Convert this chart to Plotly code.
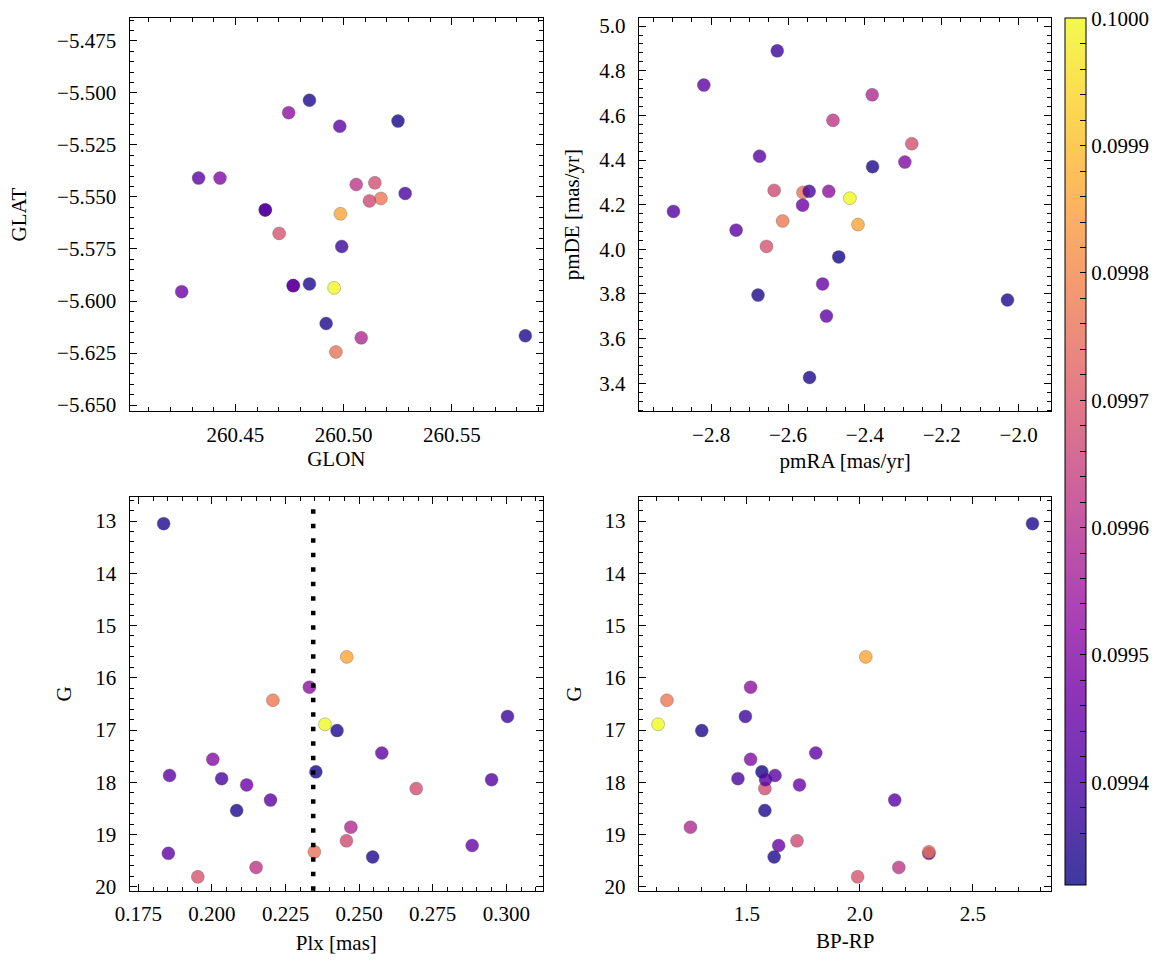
import plotly.graph_objects as go
import plotly.colors as pc

# ---- data (one entry per star) ----
G = [19.36, 19.33, 18.12, 13.05, 15.60, 16.18, 16.43, 16.74, 16.89, 17.01, 17.44, 17.56, 17.80,
     17.87, 17.93, 17.95, 18.05, 18.34, 18.54, 18.86, 19.12, 19.21, 19.43, 19.63, 19.81]
plx = [0.1852, 0.2348, 0.2694, 0.1836, 0.2458, 0.2331, 0.2207, 0.3004, 0.2384, 0.2425, 0.2577, 0.2003, 0.2353,
       0.1856, 0.2033, 0.2950, 0.2118, 0.2199, 0.2084, 0.2472, 0.2457, 0.2884, 0.2546, 0.2150, 0.1952]
bp_rp = [2.305, 2.305, 1.580, 2.763, 2.026, 1.517, 1.147, 1.494, 1.108, 1.301, 1.805, 1.517, 1.567,
         1.625, 1.461, 1.583, 1.733, 2.154, 1.580, 1.251, 1.722, 1.641, 1.621, 2.172, 1.990]
glon = [260.4638, 260.4964, 260.5144, 260.5839, 260.4985, 260.4746, 260.5172, 260.4991, 260.4956, 260.4842,
        260.4982, 260.4429, 260.5251, 260.4330, 260.5284, 260.4638, 260.4252, 260.4767, 260.4842, 260.5081,
        260.5119, 260.4767, 260.4919, 260.5058, 260.4702]
glat = [-5.5562, -5.6245, -5.5432, -5.6167, -5.5581, -5.5095, -5.5507, -5.5738, -5.5937, -5.5035,
        -5.5160, -5.5409, -5.5135, -5.5409, -5.5483, -5.5562, -5.5955, -5.5926, -5.5918, -5.6177,
        -5.5519, -5.5926, -5.6108, -5.5440, -5.5675]
pmra = [-2.500, -2.561, -2.278, -2.029, -2.418, -2.494, -2.614, -2.628, -2.439, -2.380, -2.819, -2.296, -2.468,
        -2.674, -2.545, -2.898, -2.562, -2.735, -2.678, -2.381, -2.636, -2.510, -2.544, -2.483, -2.656]
pmde = [3.701, 4.255, 4.473, 3.773, 4.111, 4.260, 4.127, 4.889, 4.229, 4.370, 4.736, 4.391, 3.966,
        4.417, 4.260, 4.170, 4.198, 4.086, 3.795, 4.692, 4.264, 3.845, 3.426, 4.578, 4.013]
prob = [0.09944, 0.09976, 0.09968, 0.09934, 0.09986, 0.09952, 0.09977, 0.09938, 0.10000, 0.09934,
        0.09944, 0.09950, 0.09933, 0.09943, 0.09940, 0.09942, 0.09946, 0.09943, 0.09934, 0.09959,
        0.09967, 0.09945, 0.09934, 0.09962, 0.09969]
plx_mean = 0.2344
cb_ticks = [0.0994, 0.0995, 0.0996, 0.0997, 0.0998, 0.0999, 0.1000]
CMIN, CMAX = 0.099319, 0.1000

FONT = "Liberation Serif"
FS = 21
W, H = 1166, 965
ALPHA = 0.8

# colorbar scale: plasma blended with white (like alpha on a white page)
plasma = pc.sequential.Plasma
blended = []
for i, c in enumerate(plasma):
    r, g, b = pc.hex_to_rgb(c)
    rr = round(ALPHA * r + (1 - ALPHA) * 255)
    gg = round(ALPHA * g + (1 - ALPHA) * 255)
    bb = round(ALPHA * b + (1 - ALPHA) * 255)
    blended.append([i / (len(plasma) - 1), f"rgb({rr},{gg},{bb})"])

fig = go.Figure()

panels = [
    (glon, glat, "x", "y"),
    (pmra, pmde, "x2", "y2"),
    (plx, G, "x3", "y3"),
    (bp_rp, G, "x4", "y4"),
]
for xs, ys, xa, ya in panels:
    fig.add_trace(go.Scatter(
        x=xs, y=ys, xaxis=xa, yaxis=ya, mode="markers", showlegend=False,
        marker=dict(size=13, color=prob, colorscale="Plasma", cmin=CMIN, cmax=CMAX,
                    opacity=ALPHA, line=dict(width=0.5, color="rgba(60,60,60,0.7)")),
    ))

# colour bar
minor_vals = []
v = cb_ticks[0] - 0.00004
while v <= CMAX + 1e-9:
    minor_vals.append(round(v, 6))
    v += 0.00002
tickvals = [t for t in minor_vals if t >= CMIN - 1e-9]
ticktext = [f"{t:.4f}" if any(abs(t - m) < 1e-9 for m in cb_ticks) else "" for t in tickvals]
fig.add_trace(go.Scatter(
    x=glon, y=glat, xaxis="x", yaxis="y", mode="markers", showlegend=False, hoverinfo="skip",
    marker=dict(size=1, color=prob, opacity=0, colorscale=blended, cmin=CMIN, cmax=CMAX, showscale=True,
                colorbar=dict(x=1064 / W, xanchor="left", y=1 - 15.5 / H, yanchor="top",
                              lenmode="pixels", len=867, thicknessmode="pixels", thickness=21,
                              outlinewidth=1, outlinecolor="black", xpad=0, ypad=0,
                              ticks="inside", ticklen=6, tickcolor="black", tickwidth=1.2,
                              tickvals=tickvals, ticktext=ticktext,
                              tickfont=dict(family=FONT, size=FS, color="black"))),
))

fig.add_shape(type="line", xref="x3", yref="y3 domain", x0=plx_mean, x1=plx_mean, y0=0, y1=0.97,
              line=dict(color="black", width=4.5, dash="4.5px,10px"))

def ax(domain, rng, dtick, fmt, minor, title, anchor, standoff, lstand):
    return dict(domain=domain, range=rng, dtick=dtick, tick0=0, tickformat=fmt,
                showline=True, linecolor="black", linewidth=1.3, mirror="allticks",
                ticks="inside", ticklen=7, tickwidth=1.2, tickcolor="black",
                showgrid=False, zeroline=False, anchor=anchor,
                tickfont=dict(family=FONT, size=FS, color="black"),
                minor=dict(ticks="inside", ticklen=4, tickwidth=1, tickcolor="black", dtick=minor, showgrid=False),
                title=dict(text=title, font=dict(family=FONT, size=FS, color="black"), standoff=standoff),
                ticklabelstandoff=lstand)

xl = [116 / W, 535 / W]
xr = [632 / W, 1050 / W]
yt = [1 - 413 / H, 1 - 15 / H]
yb = [1 - 898 / H, 1 - 500 / H]

fig.update_layout(
    width=W, height=H, margin=dict(l=0, r=0, t=0, b=0),
    paper_bgcolor="white", plot_bgcolor="white",
    xaxis=ax(xl, [260.4011, 260.5921], 0.05, ".2f", 0.01, "GLON", "y", 5, 4),
    yaxis=ax(yt, [-5.653, -5.4639], 0.025, ".3f", 0.005, "GLAT", "x", 24, 8),
    xaxis2=ax(xr, [-2.988, -1.9145], 0.2, ".1f", 0.05, "pmRA [mas/yr]", "y2", 7, 4),
    yaxis2=ax(yt, [3.2746, 5.037], 0.2, ".1f", 0.04, "pmDE [mas/yr]", "x2", 13, 8),
    xaxis3=ax(xl, [0.172, 0.3125], 0.025, ".3f", 0.005, "Plx [mas]", "y3", 10, 4),
    yaxis3=ax(yb, [20.076, 12.546], 1, "d", 0.2, "G", "x3", 17, 8),
    xaxis4=ax(xr, [1.023, 2.847], 0.5, ".1f", 0.1, "BP-RP", "y4", 8, 4),
    yaxis4=ax(yb, [20.076, 12.546], 1, "d", 0.2, "G", "x4", 17, 8),
)

fig.write_html("out.html")
